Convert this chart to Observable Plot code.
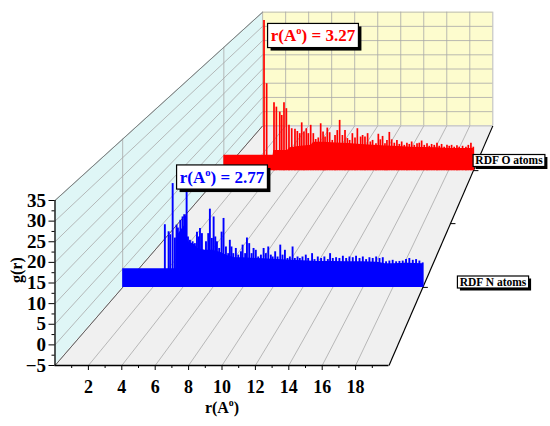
<!DOCTYPE html>
<html><head><meta charset="utf-8">
<script src="https://cdn.jsdelivr.net/npm/d3@7"></script>
<script src="https://cdn.jsdelivr.net/npm/@observablehq/plot@0.6"></script>
<style>body{margin:0;background:#fff}#chart{width:550px;height:426px}</style>
</head><body><div id="chart"></div>
<script>
// ---------- data ----------
const xTicks = [2,4,6,8,10,12,14,16,18];
const xMinor = [1,3,5,7,9,11,13,15,17,19];
const yTicks = [-5,0,5,10,15,20,25,30,35];
const yMinor = [-2.5,2.5,7.5,12.5,17.5,22.5,27.5,32.5];
const seriesNames = ["RDF N atoms","RDF O atoms"];
const seriesDepth = [0.25, 0.75];
const depthTicks = [0.25, 0.5, 0.75];
const peakLabels = ["r(A°) = 2.77","r(A°) = 3.27"];

// N atoms (blue): spike tops
const rN = [2.81,3.06,3.17,3.33,3.48,3.59,3.68,3.84,3.99,4.10,4.17,4.26,4.35,4.48,4.66,4.81,4.95,5.06,5.15,5.28,5.39,5.55,5.70,5.81,5.94,6.06,6.17,6.28,6.43,6.59,6.72,6.88,7.03,7.14,7.25,7.37,7.54,7.70,7.88,7.99,8.16,8.28,8.43,8.59,8.72,8.87,9.03,9.21,9.39,9.54,9.70,9.87,9.99,10.16,10.32,10.50,10.65,10.81,10.98,11.14,11.32,11.47,11.65,11.80,11.98,12.20,12.36,12.62,12.78,13.00,13.22,13.44,13.67,13.82,14.00,14.22,14.44,14.67,14.89,15.11,15.33,15.55,15.78,16.00,16.22,16.44,16.66,16.89,17.11,17.33,17.55,17.77,17.99,18.22,18.44,18.66,18.88,19.10,19.33,19.55,19.77,19.99];
const gN = [11.9,10.0,9.2,23.0,8.3,11.8,11.0,13.1,14.0,14.6,14.3,21.5,8.6,7.7,7.3,6.8,9.9,8.6,10.9,9.5,4.6,7.3,9.5,16.1,8.2,14.0,8.6,7.3,5.5,9.9,13.6,5.9,4.1,7.7,5.9,4.1,5.5,3.7,4.6,6.4,4.1,8.3,6.8,4.1,5.5,5.0,3.2,3.7,5.5,4.1,5.9,3.7,3.2,4.6,3.2,6.4,3.7,5.0,2.8,3.2,5.9,2.8,3.2,2.8,3.2,3.7,2.8,4.1,2.5,3.2,2.8,3.2,2.5,4.1,2.8,3.0,2.8,3.4,2.8,3.2,3.0,3.4,2.8,3.2,2.5,3.0,2.8,3.2,2.8,3.0,1.9,2.1,2.3,1.9,2.0,2.1,2.5,2.8,2.3,2.5,2.1,1.6];
// N atoms (blue): dense fill level
const rNfill = [0,2.76,3.55,3.58,3.9,4.2,4.3,4.8,5.0,5.5,6.0,6.5,7.0,7.5,8.0,9.0,10.0,11.0,12.0,13.0,14.0,15.0,16.0,17.0,17.5,18.0,19.0,20.0];
const gNfill = [0,0,0,8.5,10.5,12.0,7.5,6.5,5.5,5.0,5.0,4.5,3.5,3.0,3.0,2.8,2.6,2.4,2.2,2.0,2.0,1.9,1.9,1.8,1.4,1.4,1.5,1.4];

// O atoms (red): spike tops
const rO = [3.22,3.43,4.02,4.21,4.48,4.64,4.82,5.01,5.22,5.44,5.70,5.89,6.08,6.24,6.42,6.61,6.77,6.96,7.17,7.36,7.57,7.76,7.95,8.11,8.29,8.48,8.69,8.91,9.09,9.28,9.50,9.71,9.90,10.08,10.30,10.51,10.70,10.96,11.12,11.31,11.52,11.74,11.92,12.19,12.38,12.54,12.72,12.91,13.07,13.26,13.45,13.66,13.87,14.06,14.25,14.46,14.67,14.86,15.05,15.26,15.48,15.66,15.85,16.06,16.28,16.46,16.65,16.86,17.08,17.26,17.45,17.66,17.88,18.06,18.25,18.46,18.68,18.86,19.13,19.40,19.59,19.80,19.99];
const gO = [43.7,23.2,17.0,15.6,14.0,12.9,17.0,15.1,9.7,8.6,8.4,7.7,7.0,10.5,7.5,8.6,7.0,9.7,7.0,5.1,5.6,10.2,7.5,5.9,8.8,7.3,4.8,6.4,8.0,11.3,6.4,8.0,5.4,4.8,7.0,5.6,8.6,5.9,6.4,5.9,7.0,4.3,4.8,3.7,6.8,5.0,6.1,3.7,4.8,7.4,5.0,3.9,4.8,3.5,4.3,3.2,3.9,3.5,4.3,3.2,3.7,3.9,4.6,3.2,3.7,2.9,3.5,3.2,3.9,2.9,3.5,2.6,3.2,2.9,3.2,2.6,3.1,2.6,2.9,2.6,3.2,3.9,2.6];
// O atoms (red): dense fill level
const rOfill = [0,3.15,3.95,4.0,5.1,5.3,6.0,7.0,7.2,8.0,9.0,10.0,11.0,12.0,13.0,14.0,15.0,16.0,17.0,18.0,19.0,20.0];
const gOfill = [0,0,0,1.5,1.5,2.4,2.8,3.2,4.2,4.2,4.0,3.8,3.5,3.2,3.0,2.8,2.6,2.5,2.4,2.2,2.2,2.2];

// ---------- 3D perspective projection into front-plane (r, g) units ----------
const K = 0.451, VPr = 40.0, VPg = 181.9;
const sc = d => 1 / (1 + K * d);
const px = (r, d) => VPr + (r - VPr) * sc(d);
const py = (g, d) => VPg + (g - VPg) * sc(d);

const pts = (rs, gs) => rs.map((r, i) => ({r, g: gs[i]}));
const N = pts(rN, gN), Nf = pts(rNfill, gNfill);
const O = pts(rO, gO), Of = pts(rOfill, gOfill);
const dN = seriesDepth[0], dO = seriesDepth[1];

const grid = "#a8a8a8";
const seriesMarks = (spikes, fill, d, color, sw) => [
  Plot.areaY(fill, {x: p => px(p.r, d), y1: () => py(-5, d), y2: p => py(p.g, d), fill: color}),
  Plot.ruleX(spikes, {x: p => px(p.r, d), y1: () => py(-5, d), y2: p => py(p.g, d), stroke: color, strokeWidth: sw})
];

const plot = Plot.plot({
  width: 550, height: 426,
  marginLeft: 54.5, marginRight: 161.5, marginTop: 200, marginBottom: 61,
  x: {domain: [0, 20]},
  y: {domain: [-5, 35]},
  style: "font-family:'Liberation Serif','Times New Roman',serif;font-weight:bold;background:#fff;color:#000;overflow:visible",
  marks: [
    // walls
    Plot.areaY([0, 1], {x: d => px(0, d), y1: d => py(-5, d), y2: d => py(35, d), fill: "#dff6f6"}),
    Plot.rect([1], {x1: d => px(0, d), x2: d => px(20, d), y1: d => py(-5, d), y2: d => py(35, d), fill: "#fdfcce"}),
    Plot.areaX([0, 1], {y: d => py(-5, d), x1: d => px(0, d), x2: d => px(20, d), fill: "#f0f0f0"}),
    // back wall grid
    Plot.ruleX(d3.range(0, 21, 2), {x: r => px(r, 1), y1: () => py(-5, 1), y2: () => py(35, 1), stroke: grid, strokeWidth: 0.8}),
    Plot.ruleY(yTicks, {y: g => py(g, 1), x1: () => px(0, 1), x2: () => px(20, 1), stroke: grid, strokeWidth: 0.8}),
    // left wall grid
    Plot.link(yTicks, {x1: () => px(0, 0), y1: g => py(g, 0), x2: () => px(0, 1), y2: g => py(g, 1), stroke: grid, strokeWidth: 0.8}),
    Plot.ruleX(seriesDepth, {x: d => px(0, d), y1: d => py(-5, d), y2: d => py(35, d), stroke: grid, strokeWidth: 0.8}),
    // floor grid
    Plot.link(xTicks, {x1: r => px(r, 0), y1: () => py(-5, 0), x2: r => px(r, 1), y2: () => py(-5, 1), stroke: grid, strokeWidth: 0.8}),
    // edges
    Plot.link([0], {x1: () => px(0, 0), y1: () => py(35, 0), x2: () => px(0, 1), y2: () => py(35, 1), stroke: "#777", strokeWidth: 0.9}),
    Plot.link([0], {x1: () => px(0, 0), y1: () => py(-5, 0), x2: () => px(0, 1), y2: () => py(-5, 1), stroke: "#555", strokeWidth: 0.9}),
    Plot.link([0], {x1: () => px(20, 0), y1: () => py(-5, 0), x2: () => px(20, 1), y2: () => py(-5, 1), stroke: "#000", strokeWidth: 1.2}),
    Plot.link(depthTicks, {x1: d => px(20, d), y1: d => py(-5, d), x2: d => px(20, d) + 0.3, y2: d => py(-5, d), stroke: "#000", strokeWidth: 1}),
    // series (back first)
    ...seriesMarks(O, Of, dO, "#ff0000", 1.7),
    ...seriesMarks(N, Nf, dN, "#0000ff", 1.9),
    // axes
    Plot.ruleY([-5], {stroke: "#000", strokeWidth: 1.3}),
    Plot.ruleX([0], {stroke: "#000", strokeWidth: 1.3}),
    Plot.axisX({ticks: xTicks, tickSize: 5, tickPadding: 10, fontSize: 18, label: null}),
    Plot.axisX({ticks: xMinor, tickSize: 3, tickFormat: () => "", label: null}),
    Plot.axisY({ticks: yTicks, tickSize: 6, tickPadding: 3, fontSize: 19, label: null}),
    Plot.axisY({ticks: yMinor, tickSize: 3, tickFormat: () => "", label: null}),
    Plot.text(["r(A°)"], {frameAnchor: "bottom", dy: 47, fontSize: 16}),
    Plot.text(["g(r)"], {frameAnchor: "left", dx: -38.5, rotate: -90, fontSize: 16})
  ]
});
document.getElementById("chart").appendChild(plot);

// superscript "o" in A°
function setRich(el, str, size) {
  el.text(null);
  const parts = str.split("°");
  if (parts.length === 1) { el.text(str); return; }
  el.append("tspan").text(parts[0]);
  el.append("tspan").attr("dy", -0.42 * size).attr("font-size", 0.62 * size).text("o");
  el.append("tspan").attr("dy", 0.42 * size).attr("font-size", size).text(parts[1]);
}
const svg = d3.select(plot);
svg.selectAll("text").each(function () {
  const t = this.textContent;
  if (t.includes("°")) setRich(d3.select(this), t, 16);
});

// annotation boxes
function addLabel(str, cx, cy, size, color, padX, padY, sh) {
  const g = svg.append("g");
  const shadow = g.append("rect").attr("fill", "#000");
  const box = g.append("rect").attr("fill", "#fff").attr("stroke", "#000").attr("stroke-width", 1.2);
  const t = g.append("text").attr("x", cx).attr("y", cy).attr("dy", "0.34em")
    .attr("text-anchor", "middle").attr("font-size", size).attr("fill", color)
    .attr("font-family", "'Liberation Serif','Times New Roman',serif").attr("font-weight", "bold");
  setRich(t, str, size);
  const b = t.node().getBBox();
  const w = b.width + 2 * padX, h = b.height + 2 * padY;
  box.attr("x", cx - w / 2).attr("y", cy - h / 2).attr("width", w).attr("height", h);
  shadow.attr("x", cx - w / 2 + sh).attr("y", cy - h / 2 + sh).attr("width", w).attr("height", h);
}
addLabel(peakLabels[1], 313, 35.5, 17, "#ff0000", 3, 2, 3);
addLabel(peakLabels[0], 222, 177, 17, "#0000ff", 3, 2, 3);
addLabel(seriesNames[1], 509, 160.5, 11.5, "#000", 2, 0, 2.5);
addLabel(seriesNames[0], 493, 282, 11.5, "#000", 2, 0, 2.5);
</script>
</body></html>
